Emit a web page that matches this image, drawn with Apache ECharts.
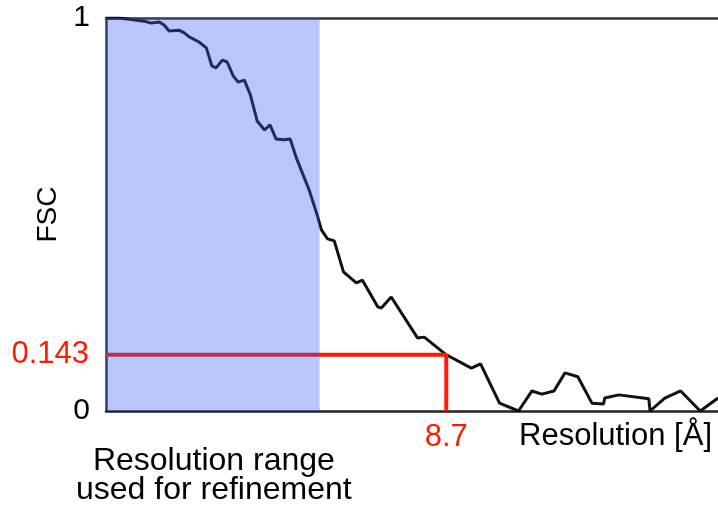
<!DOCTYPE html>
<html>
<head>
<meta charset="utf-8">
<script src="https://cdn.jsdelivr.net/npm/echarts@6/dist/echarts.min.js"></script>
<style>
  html, body { margin: 0; padding: 0; background: #fff; }
  #chart { width: 718px; height: 505px; }
</style>
</head>
<body>
<div id="chart"></div>
<script>
// Spatial frequency as a fraction of the plotted range (0 = low resolution, 1 = high)
const freq = [0, 0.021, 0.038, 0.062, 0.074, 0.087, 0.095, 0.103, 0.119, 0.128, 0.136, 0.152,
  0.164, 0.173, 0.180, 0.190, 0.198, 0.208, 0.216, 0.226, 0.236, 0.247, 0.259, 0.268, 0.278,
  0.290, 0.301, 0.311, 0.332, 0.345, 0.352, 0.362, 0.373, 0.388, 0.409, 0.419, 0.444, 0.450,
  0.466, 0.509, 0.520, 0.556, 0.597, 0.612, 0.643, 0.674, 0.696, 0.712, 0.732, 0.750, 0.771,
  0.794, 0.813, 0.815, 0.838, 0.887, 0.889, 0.913, 0.939, 0.971, 1.0];
// Fourier shell correlation per shell
const fsc = [1.000, 1.000, 0.997, 0.992, 0.987, 0.990, 0.982, 0.967, 0.969, 0.962, 0.952, 0.939,
  0.924, 0.878, 0.873, 0.893, 0.888, 0.852, 0.837, 0.842, 0.804, 0.738, 0.715, 0.728, 0.692,
  0.690, 0.692, 0.644, 0.562, 0.499, 0.461, 0.438, 0.433, 0.354, 0.326, 0.333, 0.265, 0.262,
  0.290, 0.186, 0.188, 0.143, 0.109, 0.120, 0.020, 0.000, 0.051, 0.043, 0.051, 0.097, 0.087,
  0.020, 0.018, 0.033, 0.041, 0.031, 0.000, 0.033, 0.051, 0.000, 0.033];

// Gold-standard threshold and where the curve crosses it
const threshold = 0.143;
const thresholdLabel = '0.143';
const crossingFreq = 0.556;
const crossingLabel = '8.7';
// Frequency band used during refinement
const refineBand = [0, 0.349];

const yTicks = [0, 1];

const font = '"Liberation Sans", Arial, Helvetica, sans-serif';
const red = '#ff1a00';
const chart = echarts.init(document.getElementById('chart'), null, { renderer: 'canvas' });

// Label on a single point of the threshold guide
function pointLabel(text, position, distance) {
  return {
    show: true, position: position, distance: distance, formatter: text,
    color: red, fontSize: 31, fontFamily: font
  };
}

chart.setOption({
  animation: false,
  backgroundColor: '#ffffff',
  grid: { left: 106, right: 0, top: 18, bottom: 94 },
  xAxis: [
    {
      type: 'value', min: 0, max: 1, position: 'bottom',
      axisLine: { show: true, lineStyle: { color: '#222', width: 2.5 } },
      axisTick: { show: false }, axisLabel: { show: false }, splitLine: { show: false }
    },
    {
      type: 'value', min: 0, max: 1, position: 'top',
      axisLine: { show: true, lineStyle: { color: '#333', width: 2.5 } },
      axisTick: { show: false }, axisLabel: { show: false }, splitLine: { show: false }
    }
  ],
  yAxis: {
    type: 'value', min: yTicks[0], max: yTicks[1], interval: 1,
    name: 'FSC', nameLocation: 'middle', nameGap: 41, nameRotate: 90,
    nameTextStyle: { color: '#000', fontSize: 28, fontFamily: font },
    axisLine: { show: true, lineStyle: { color: '#333', width: 2.5 } },
    axisTick: { show: false }, splitLine: { show: false },
    axisLabel: { color: '#000', fontSize: 30, fontFamily: font, margin: 16 }
  },
  series: [
    {
      type: 'line', name: 'FSC', z: 2,
      data: freq.map((f, i) => [f, fsc[i]]),
      showSymbol: false, symbol: 'none',
      lineStyle: { color: '#111', width: 3 }
    },
    {
      type: 'line', name: 'threshold', z: 3,
      data: [
        { value: [0, threshold], label: pointLabel(thresholdLabel, 'left', 16) },
        { value: [crossingFreq, threshold] },
        { value: [crossingFreq, 0], label: pointLabel(crossingLabel, 'bottom', 10) }
      ],
      showSymbol: true, symbol: 'circle', symbolSize: 2,
      itemStyle: { color: 'rgba(255,255,255,0)', borderWidth: 0 },
      lineStyle: { color: red, width: 4 }
    },
    {
      // translucent band laid over the curve for the refinement range
      type: 'custom', name: 'refinement band', z: 10, silent: true,
      data: [[refineBand[0], refineBand[1]]],
      renderItem: function (params, api) {
        const p0 = api.coord([api.value(0), 1]);
        const p1 = api.coord([api.value(1), 0]);
        return {
          type: 'rect',
          shape: { x: p0[0], y: p0[1], width: p1[0] - p0[0], height: p1[1] - p0[1] },
          style: { fill: 'rgba(52, 92, 241, 0.35)' }
        };
      }
    }
  ],
  graphic: [
    {
      type: 'text', right: 6, top: 421,
      style: { text: 'Resolution [Å]', fill: '#000', font: '31px ' + font }
    },
    {
      type: 'text', left: 76, top: 445,
      style: { text: 'Resolution range\nused for refinement', fill: '#000',
        font: '32px ' + font, textAlign: 'center', lineHeight: 29 }
    }
  ]
});
</script>
</body>
</html>
